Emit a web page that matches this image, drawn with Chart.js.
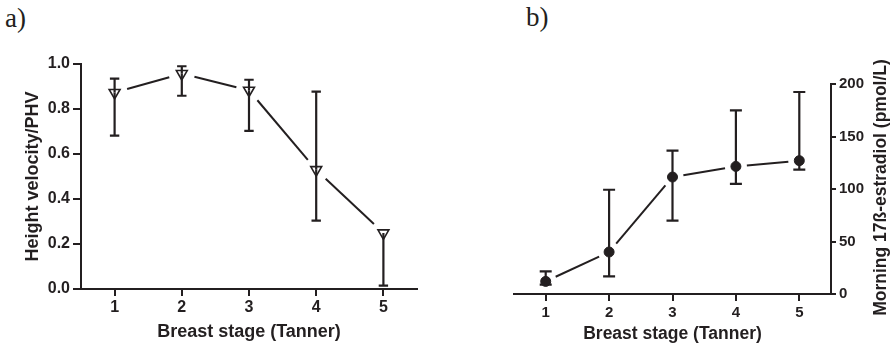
<!DOCTYPE html>
<html>
<head>
<meta charset="utf-8">
<script src="https://cdn.jsdelivr.net/npm/chart.js@4/dist/chart.umd.min.js"></script>
<style>
  body { margin: 0; background: #fff; }
  canvas { position: absolute; top: 0; }
  .tag {
    position: absolute;
    font-family: "Liberation Serif", "Times New Roman", serif;
    font-size: 27px;
    line-height: 27px;
    color: #231f20;
  }
</style>
</head>
<body>
<div class="tag" style="left:5px; top:5px;">a)</div>
<div class="tag" style="left:526px; top:4px;">b)</div>
<canvas id="hv" width="450" height="345" style="left:0;"></canvas>
<canvas id="e2" width="443" height="345" style="left:450px;"></canvas>
<script>
const STAGES = [1, 2, 3, 4, 5];

// a) height velocity as a fraction of peak height velocity
const HV_MEAN = [0.873, 0.957, 0.883, 0.530, 0.249];
const HV_HIGH = [0.935, 0.990, 0.930, 0.877, null];
const HV_LOW = [0.682, 0.859, 0.703, 0.304, 0.015];
const HV_TICKS = [0, 0.2, 0.4, 0.6, 0.8, 1.0];

// b) morning 17b-estradiol, pmol/L
const E2_MEAN = [12, 40, 111.4, 121.5, 127];
const E2_HIGH = [21.5, 99.3, 136.5, 174.9, 192.4];
const E2_LOW = [9, 16.8, 69.8, 104.8, 118.4];
const E2_TICKS = [0, 50, 100, 150, 200];

const INK = "#231f20";
const FONT = "'Liberation Sans', Arial, sans-serif";

// connecting line that stops short of each marker, plus capped error bars
function errorPlot(mean, low, high, gap, cap) {
  return {
    id: "errorPlot",
    beforeDatasetsDraw(chart) {
      const ctx = chart.ctx;
      const pts = chart.getDatasetMeta(0).data;
      ctx.save();
      ctx.strokeStyle = INK;
      ctx.lineWidth = 2;
      for (let i = 0; i < pts.length - 1; i++) {
        const a = pts[i];
        const b = pts[i + 1];
        const dx = b.x - a.x;
        const dy = b.y - a.y;
        const len = Math.hypot(dx, dy);
        if (len <= gap * 2) continue;
        const ux = dx / len;
        const uy = dy / len;
        ctx.beginPath();
        ctx.moveTo(a.x + ux * gap, a.y + uy * gap);
        ctx.lineTo(b.x - ux * gap, b.y - uy * gap);
        ctx.stroke();
      }
      ctx.restore();
    },
    afterDatasetsDraw(chart) {
      const { ctx, scales } = chart;
      ctx.save();
      ctx.strokeStyle = INK;
      ctx.lineWidth = 2.2;
      STAGES.forEach((s, i) => {
        const px = scales.x.getPixelForValue(s);
        const pm = scales.y.getPixelForValue(mean[i]);
        const ends = [low[i], high[i]].filter((v) => v != null);
        ends.forEach((v) => {
          const py = scales.y.getPixelForValue(v);
          ctx.beginPath();
          ctx.moveTo(px, pm);
          ctx.lineTo(px, py);
          ctx.moveTo(px - cap, py);
          ctx.lineTo(px + cap, py);
          ctx.stroke();
        });
      });
      ctx.restore();
    },
  };
}

// y title for the right-hand axis, reading bottom to top
const sideTitle = {
  id: "sideTitle",
  afterDraw(chart) {
    const { ctx, scales } = chart;
    const y = (scales.y.top + scales.y.bottom) / 2 - 1.5;
    ctx.save();
    ctx.translate(chart.width - 11.5, y);
    ctx.rotate(-Math.PI / 2);
    ctx.font = "bold 17.5px " + FONT;
    ctx.fillStyle = INK;
    ctx.textAlign = "center";
    ctx.textBaseline = "middle";
    ctx.fillText("Morning 17ß-estradiol (pmol/L)", 0, 0);
    ctx.restore();
  },
};

function axisX(height, tickSize, tickPad, titleSize, titlePad) {
  return {
    type: "linear",
    min: 0.5,
    max: 5.5,
    afterBuildTicks: (s) => {
      s.ticks = STAGES.map((v) => ({ value: v }));
    },
    afterFit: (s) => {
      s.height = height;
    },
    grid: { drawOnChartArea: false, tickLength: 7, lineWidth: 2, color: INK },
    border: { color: INK, width: 2 },
    ticks: {
      color: INK,
      padding: tickPad,
      font: { family: FONT, size: tickSize, weight: "bold" },
    },
    title: {
      display: true,
      text: "Breast stage (Tanner)",
      color: INK,
      padding: { top: 0, bottom: titlePad },
      font: { family: FONT, size: titleSize, weight: "bold" },
    },
  };
}

new Chart(document.getElementById("hv"), {
  type: "scatter",
  data: {
    datasets: [
      {
        data: STAGES.map((s, i) => ({ x: s, y: HV_MEAN[i] })),
        pointStyle: "triangle",
        pointRotation: 180,
        pointRadius: 6.3,
        pointBackgroundColor: "#fff",
        pointBorderColor: INK,
        pointBorderWidth: 1.6,
        showLine: false,
        clip: false,
      },
    ],
  },
  options: {
    responsive: false,
    animation: false,
    events: [],
    layout: { padding: { top: 64, right: 33, left: 0, bottom: 0 } },
    plugins: { legend: { display: false }, tooltip: { enabled: false } },
    scales: {
      x: axisX(56, 16, 1.5, 18, 2),
      y: {
        min: 0,
        max: 1,
        afterBuildTicks: (s) => {
          s.ticks = HV_TICKS.map((v) => ({ value: v }));
        },
        afterFit: (s) => {
          s.width = 81;
        },
        grid: { drawOnChartArea: false, tickLength: 8, lineWidth: 2, color: INK },
        border: { color: INK, width: 2 },
        ticks: {
          color: INK,
          padding: 3,
          font: { family: FONT, size: 16, weight: "bold" },
          callback: (v) => v.toFixed(1),
        },
        title: {
          display: true,
          text: "Height velocity/PHV",
          color: INK,
          padding: { top: 22.5, bottom: 0 },
          font: { family: FONT, size: 18, weight: "bold" },
        },
      },
    },
  },
  plugins: [errorPlot(HV_MEAN, HV_LOW, HV_HIGH, 13, 4.7)],
});

new Chart(document.getElementById("e2"), {
  type: "scatter",
  data: {
    datasets: [
      {
        data: STAGES.map((s, i) => ({ x: s, y: E2_MEAN[i] })),
        pointStyle: "circle",
        pointRadius: 5,
        pointBackgroundColor: INK,
        pointBorderColor: INK,
        pointBorderWidth: 1,
        showLine: false,
        clip: false,
      },
    ],
  },
  options: {
    responsive: false,
    animation: false,
    events: [],
    layout: { padding: { top: 84, right: 0, left: 64, bottom: 0 } },
    plugins: { legend: { display: false }, tooltip: { enabled: false } },
    scales: {
      x: axisX(51, 15, 2.4, 17.5, 0.5),
      y: {
        position: "right",
        min: 0,
        max: 200,
        afterBuildTicks: (s) => {
          s.ticks = E2_TICKS.map((v) => ({ value: v }));
        },
        afterFit: (s) => {
          s.width = 62;
        },
        grid: { drawOnChartArea: false, tickLength: 5, lineWidth: 2, color: INK },
        border: { color: INK, width: 2 },
        ticks: {
          color: INK,
          padding: 3,
          font: { family: FONT, size: 15, weight: "bold" },
        },
      },
    },
  },
  plugins: [errorPlot(E2_MEAN, E2_LOW, E2_HIGH, 11, 6), sideTitle],
});
</script>
</body>
</html>
